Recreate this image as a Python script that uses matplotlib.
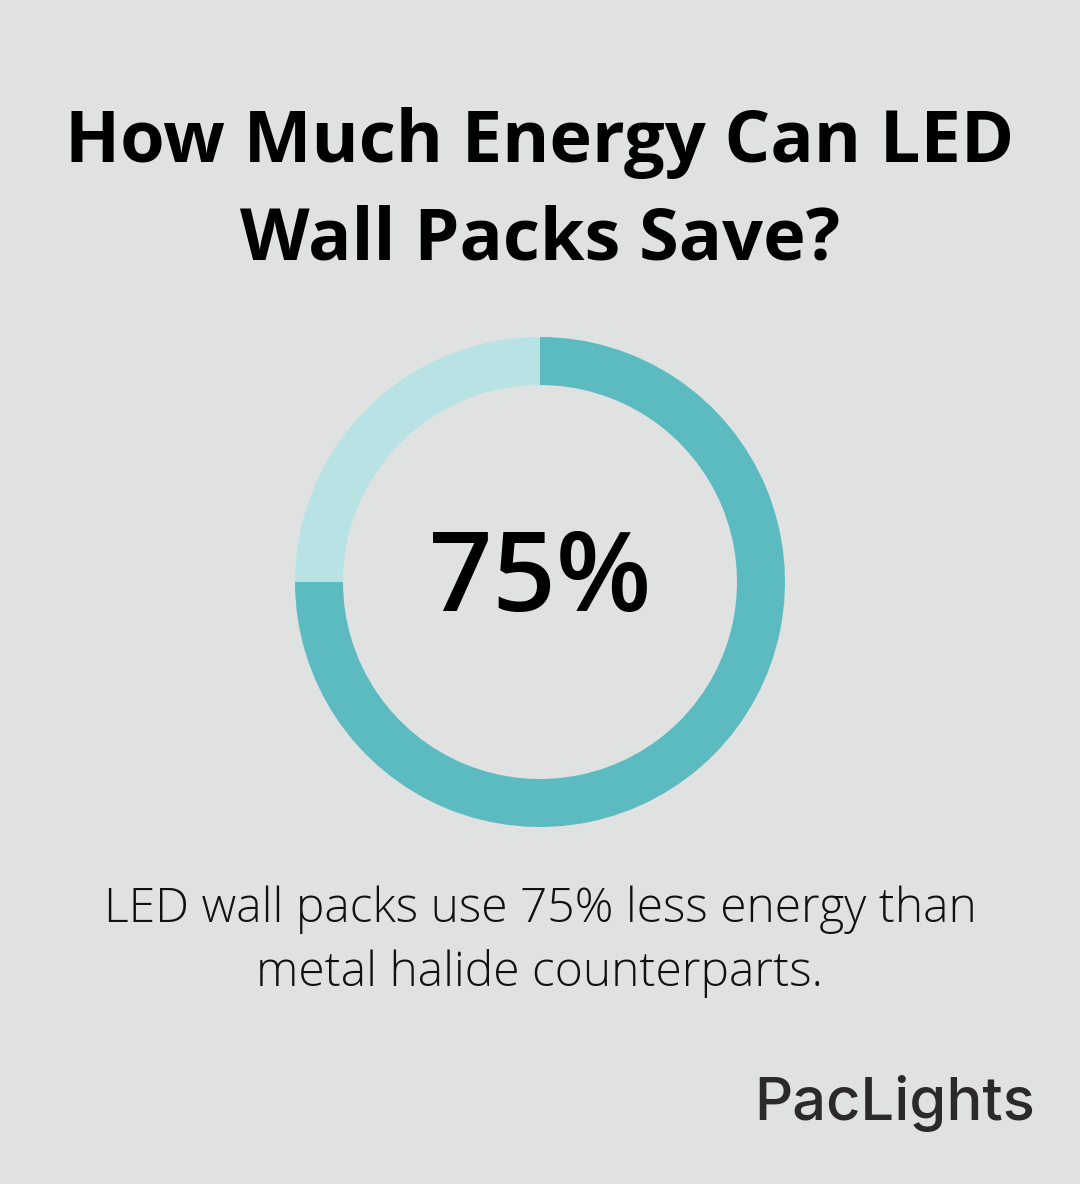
import matplotlib.pyplot as plt

# data
title_lines = ['How Much Energy Can LED', 'Wall Packs Save?']
share = [75, 25]
share_colors = ['#5BBBC0', '#B9E2E4']
center_label = '75%'
caption_lines = ['LED wall packs use 75% less energy than', 'metal halide counterparts.']
brand = 'PacLights'

W, H = 1080, 1184
bg = '#E0E2E1'

fig = plt.figure(figsize=(W / 100, H / 100), dpi=100)
fig.patch.set_facecolor(bg)

# donut
cx, cy, r = 540, 582, 245
ax = fig.add_axes([(cx - r) / W, (H - cy - r) / H, 2 * r / W, 2 * r / H])
ax.set_facecolor(bg)
ax.pie(share, colors=share_colors, startangle=90, counterclock=False,
       radius=1.0, wedgeprops=dict(width=48 / r, linewidth=0))
ax.set_xlim(-1, 1)
ax.set_ylim(-1, 1)
ax.axis('off')
ax.text(0, 0, center_label, ha='center', va='center', fontsize=80,
        fontweight='semibold', family='Open Sans', color='black')

# title
for i, line in enumerate(title_lines):
    fig.text(0.5, 1 - (143 + i * 98) / H, line, ha='center', va='center',
             fontsize=51.8, fontweight='bold', family='Open Sans', color='black')

# caption
for i, line in enumerate(caption_lines):
    fig.text(0.5, 1 - (910 + i * 64) / H, line, ha='center', va='center',
             fontsize=34.6, fontweight='light', family='Open Sans', color='#111111')

# brand
fig.text(1035 / W, 1 - 1103 / H, brand, ha='right', va='center',
         fontsize=43, fontweight='medium', family='Inter', color='#2B2A29')

fig.savefig('out.png', dpi=100, facecolor=bg)
